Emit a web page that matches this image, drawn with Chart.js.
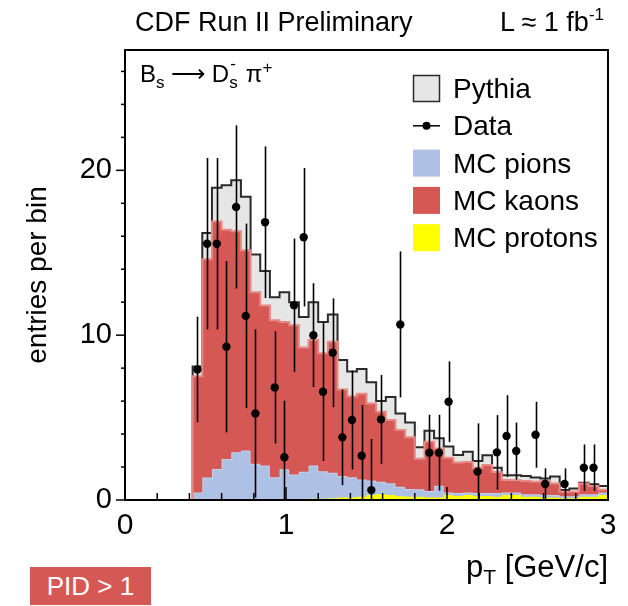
<!DOCTYPE html>
<html><head><meta charset="utf-8">
<script src="https://cdn.jsdelivr.net/npm/chart.js@4.4.1/dist/chart.umd.min.js"></script>
<style>
html,body{margin:0;padding:0;background:#fff;}
#wrap{position:relative;width:628px;height:606px;overflow:hidden;font-family:"Liberation Sans",Arial,sans-serif;color:#000;}
canvas{position:absolute;left:0;top:0;}
.t{position:absolute;white-space:nowrap;line-height:1;}
#pid{position:absolute;left:30px;top:567px;width:121px;height:38px;background:#d65855;color:#fff;font-size:26px;line-height:38px;text-align:center;font-family:"Liberation Sans",Arial,sans-serif;}
</style></head><body>
<div id="wrap">
<canvas id="c" width="628" height="606"></canvas>
<div class="t" style="left:135px;top:9px;font-size:27px;">CDF Run II Preliminary</div>
<div class="t" style="left:500px;top:9px;font-size:27px;">L ≈ 1 fb<span style="position:relative;top:-11px;font-size:17px;">-1</span></div>
<div class="t" style="left:140px;top:62px;font-size:24px;">B<span style="position:relative;top:6px;font-size:17px;">s</span> ⟶ D<span style="position:relative;display:inline-block;width:10px;font-size:17px;"><span style="position:absolute;left:1px;top:-13px;">-</span><span style="position:relative;top:6px;">s</span></span> π<span style="position:relative;top:-9px;font-size:17px;">+</span></div>
<div class="t" style="right:20px;top:551px;font-size:31px;">p<span style="position:relative;top:7px;font-size:21px;">T</span> [GeV/c]</div>
<div id="pid">PID &gt; 1</div>
</div>
<script>
// ---- data ----
const binLowEdges = [0.00,0.06,0.12,0.18,0.24,0.30,0.36,0.42,0.48,0.54,0.60,0.66,0.72,0.78,0.84,0.90,0.96,1.02,1.08,1.14,
  1.20,1.26,1.32,1.38,1.44,1.50,1.56,1.62,1.68,1.74,1.80,1.86,1.92,1.98,2.04,2.10,2.16,2.22,2.28,2.34,
  2.40,2.46,2.52,2.58,2.64,2.70,2.76,2.82,2.88,2.94];
const binUpperEdge = 3.0;
const pythia = [0,0,0,0,0,0,0, 8.1,16.2,18.95,19.1,19.4,18.4,14.9,13.9,12.3,12.6,12.0,11.1,12.0,
  10.8,11.25,8.5,7.8,7.95,7.15,6.0,6.25,5.25,4.7,3.2,4.2,3.75,3.25,2.73,2.93,2.36,2.72,1.96,1.5,
  1.5,1.45,1.37,1.31,1.43,0.6,0.7,1.05,0.95,0.85];
const mcProtons = [0,0,0,0,0,0,0,0,0,0,0,0,0,0,0,0,0,0,0,0.08,
  0.08,0.1,0.15,0.15,0.2,0.3,0.35,0.3,0.22,0.2,0.2,0.15,0.15,0.3,0.25,0.3,0.25,0.25,0.2,0.3,
  0.3,0.2,0.2,0.15,0.15,0.1,0.1,0.2,0.2,0.3];
const mcPions = [0,0,0,0,0,0,0, 0.45,1.36,1.88,2.48,2.9,3.0,2.2,2.1,1.38,1.86,1.55,1.72,2.02,
  1.67,1.55,1.3,1.23,1.05,0.88,0.75,0.72,0.58,0.47,0.45,0.4,0.72,0.16,0.17,0.16,0.17,0.17,0.22,0.15,
  0.15,0.15,0.15,0.15,0.15,0.12,0.12,0.15,0.15,0.15];
const mcKaons = [0,0,0,0,0,0,0, 7.05,13.24,15.02,13.92,13.4,12.15,10.4,9.7,9.52,8.94,9.05,7.53,7.6,
  7.15,7.95,5.25,4.92,5.2,4.67,4.25,3.83,3.45,3.13,1.85,2.98,2.26,2.11,1.86,1.84,1.54,1.7,1.28,0.76,
  0.75,0.8,0.75,0.85,0.7,0.28,0.28,0.65,0.5,0.17];
const dataEntries = [null,null,null,null,null,null,null, 7.92,15.55,15.55,9.3,17.78,11.17,5.25,16.85,6.83,2.59,11.82,15.94,10.0,
  6.57,8.93,3.8,4.85,2.69,0.6,4.89,null,10.65,null,null,2.87,2.87,5.96,null,null,1.72,null,2.89,3.88,
  2.97,null,3.96,0.97,null,0.97,null,1.96,1.96,null];
const dataErrors = [null,null,null,null,null,null,null, 3.2,5.2,5.2,5.2,4.95,5.6,5.1,4.6,3.4,3.43,4.04,4.2,3.15,
  4.2,3.3,2.9,3.0,3.07,3.1,2.7,null,4.43,null,null,2.3,2.3,2.45,null,null,2.93,null,2.26,2.48,
  1.73,null,2.0,0.95,null,0.95,null,1.41,1.41,null];
const xTickLabels = [0,1,2,3];
const yTickLabels = [0,10,20];
const seriesNames = ['Pythia','MC protons','MC pions','MC kaons','Data'];

// ---- helpers ----
function histPoints(vals){
  const pts = binLowEdges.map((x,i)=>({x:x, y:vals[i]}));
  pts.push({x:binUpperEdge, y:vals[vals.length-1]});
  return pts;
}
const cumProtons = mcProtons.slice();
const cumPions = mcProtons.map((v,i)=>v+mcPions[i]);
const cumKaons = cumPions.map((v,i)=>v+mcKaons[i]);
function binCenter(i){ const hi = i+1<binLowEdges.length ? binLowEdges[i+1] : binUpperEdge; return (binLowEdges[i]+hi)/2; }
const dataPts = [];
dataEntries.forEach((v,i)=>{ if(v!==null) dataPts.push({x:binCenter(i), y:v, err:dataErrors[i]}); });

const COLORS = {pythia:'#e6e6e6', pythiaLine:'#2a2a2a', protons:'#ffff00', pions:'#aec0e4', pionsLine:'#c3d1ec', kaons:'#d65855', kaonsLine:'#e68a85'};

const rootDecor = {
  id:'rootDecor',
  beforeDatasetDraw(chart,args){
    if(args.index!==4) return;
    const ctx=chart.ctx, xs=chart.scales.x, ys=chart.scales.y;
    ctx.save(); ctx.strokeStyle='#000'; ctx.lineWidth=1.6;
    dataPts.forEach(p=>{
      const px=Math.round(xs.getPixelForValue(p.x))+0.5;
      ctx.beginPath();
      ctx.moveTo(px, ys.getPixelForValue(Math.max(0,p.y-p.err)));
      ctx.lineTo(px, ys.getPixelForValue(p.y+p.err));
      ctx.stroke();
    });
    ctx.restore();
  },
  afterDatasetsDraw(chart){
    const ctx=chart.ctx, xs=chart.scales.x, ys=chart.scales.y, a=chart.chartArea;
    ctx.save();
    ctx.strokeStyle='#000'; ctx.lineWidth=1.5;
    for(let k=0;k<=15;k++){
      const v=k*0.2; const px=xs.getPixelForValue(v);
      const L=(k%5===0)?13:7;
      ctx.beginPath(); ctx.moveTo(px,a.bottom); ctx.lineTo(px,a.bottom-L); ctx.stroke();
    }
    for(let v=0; v<=26; v+=2){
      const py=ys.getPixelForValue(v);
      const L=(v%10===0)?9:4;
      ctx.beginPath(); ctx.moveTo(a.left,py); ctx.lineTo(a.left-L,py); ctx.stroke();
    }
    ctx.lineWidth=2;
    ctx.strokeRect(a.left,a.top,a.right-a.left,a.bottom-a.top);
    const ds=chart.data.datasets;
    const order=[0,4,2,3,1];
    const bx=413, bs=27, y0=88.5, dy=37.3;
    ctx.font='28px "Liberation Sans", Arial, sans-serif';
    ctx.textBaseline='alphabetic'; ctx.textAlign='left';
    order.forEach((di,r)=>{
      const d=ds[di]; const cy=y0+r*dy;
      if(di===4){
        ctx.strokeStyle='#000'; ctx.lineWidth=1.5;
        ctx.beginPath(); ctx.moveTo(bx,cy); ctx.lineTo(bx+bs,cy); ctx.stroke();
        ctx.fillStyle='#000'; ctx.beginPath(); ctx.arc(bx+bs/2,cy,4,0,Math.PI*2); ctx.fill();
      } else {
        ctx.fillStyle=d.backgroundColor; ctx.fillRect(bx,cy-bs/2,bs,bs);
        if(di===0){ ctx.strokeStyle=COLORS.pythiaLine; ctx.lineWidth=1.5; ctx.strokeRect(bx+0.5,cy-bs/2+0.5,bs-1,bs-1); }
      }
      ctx.fillStyle='#000';
      ctx.fillText(d.label, 453, cy+9.5);
    });
    ctx.restore();
  }
};

new Chart(document.getElementById('c'), {
  type:'line',
  data:{datasets:[
    {label:seriesNames[0], data:histPoints(pythia), stepped:true, fill:'origin', backgroundColor:COLORS.pythia, borderColor:COLORS.pythiaLine, borderWidth:2, pointRadius:0, order:5},
    {label:seriesNames[1], data:histPoints(cumProtons), stepped:true, fill:'origin', backgroundColor:COLORS.protons, borderColor:COLORS.protons, borderWidth:1, pointRadius:0, order:4},
    {label:seriesNames[2], data:histPoints(cumPions), stepped:true, fill:'-1', backgroundColor:COLORS.pions, borderColor:COLORS.pionsLine, borderWidth:2, pointRadius:0, order:3},
    {label:seriesNames[3], data:histPoints(cumKaons), stepped:true, fill:'-1', backgroundColor:COLORS.kaons, borderColor:COLORS.kaonsLine, borderWidth:2, pointRadius:0, order:2},
    {label:seriesNames[4], data:dataPts, showLine:false, pointRadius:4.2, pointBackgroundColor:'#000', pointBorderColor:'#000', pointBorderWidth:0, order:1}
  ]},
  options:{
    responsive:false, animation:false, devicePixelRatio:1,
    layout:{padding:{left:0,right:20,top:50,bottom:0}},
    plugins:{legend:{display:false}, tooltip:{enabled:false}},
    elements:{line:{tension:0}},
    scales:{
      x:{type:'linear', min:0, max:3,
        afterFit(s){ s.height=106; },
        afterBuildTicks(s){ s.ticks=xTickLabels.map(v=>({value:v})); },
        grid:{display:false, drawTicks:false}, border:{display:false},
        ticks:{font:{family:'Liberation Sans', size:30}, color:'#000', padding:8, maxRotation:0, autoSkip:false}
      },
      y:{type:'linear', min:0, max:27.3,
        afterFit(s){ s.width=125; },
        afterBuildTicks(s){ s.ticks=yTickLabels.map(v=>({value:v})); },
        grid:{display:false, drawTicks:false}, border:{display:false},
        ticks:{font:{family:'Liberation Sans', size:29}, color:'#000', padding:13, autoSkip:false},
        title:{display:true, text:'entries per bin', font:{family:'Liberation Sans', size:28}, color:'#000', padding:{top:21,bottom:0}}
      }
    }
  },
  plugins:[rootDecor]
});
</script>
</body></html>
